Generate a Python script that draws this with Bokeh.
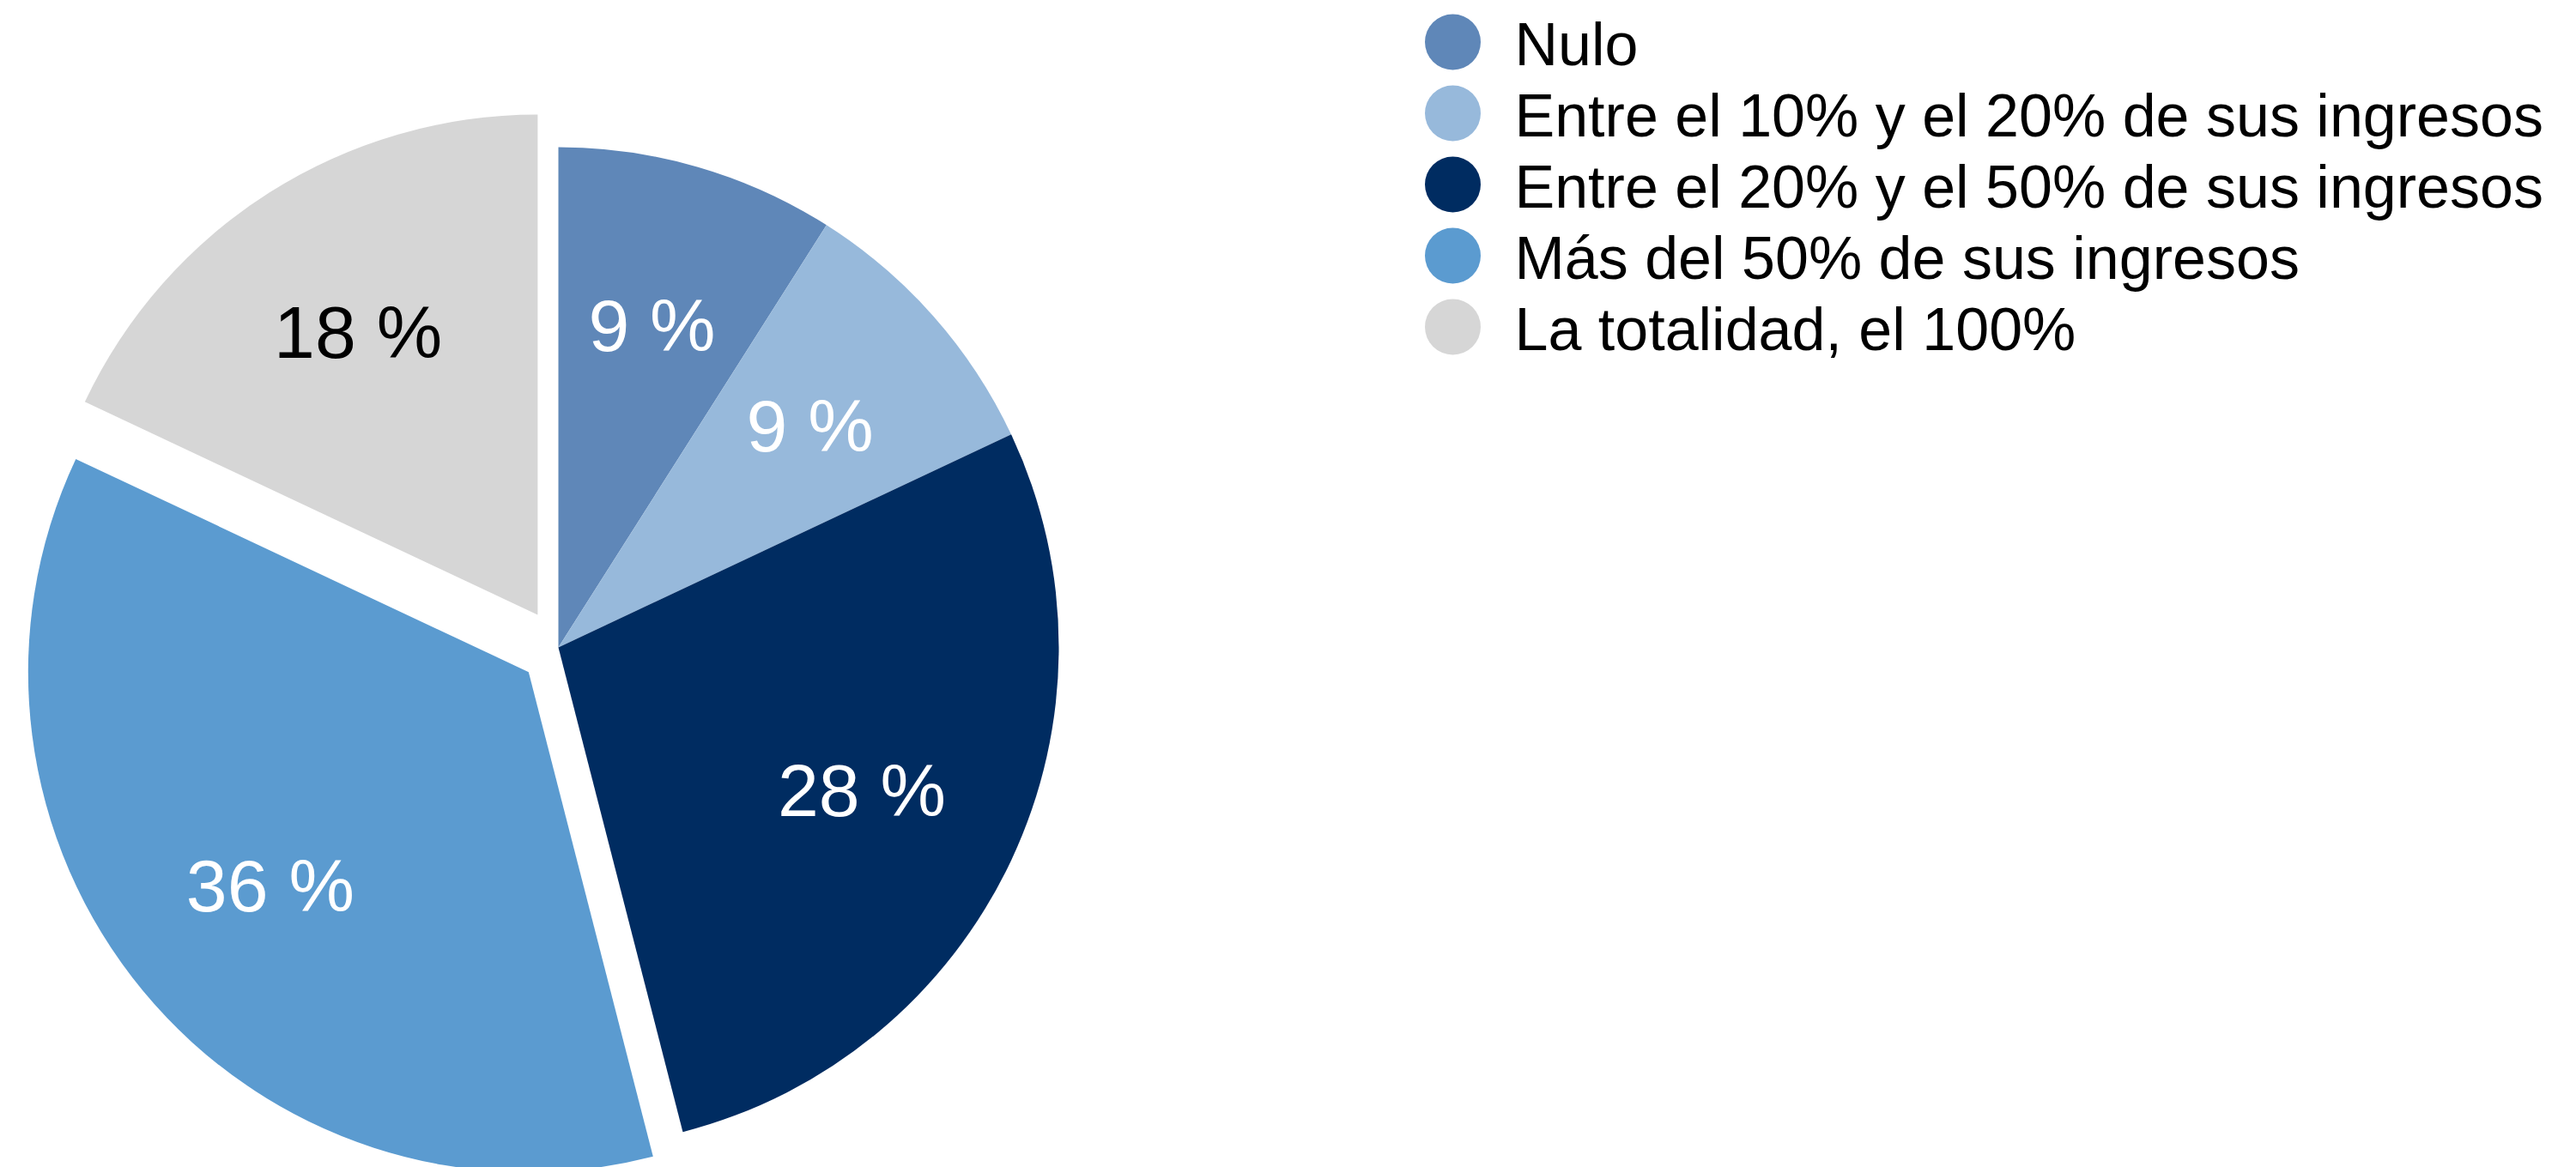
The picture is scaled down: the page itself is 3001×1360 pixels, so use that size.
import numpy as np
from bokeh.plotting import figure
from bokeh.models import Range1d, ColumnDataSource
from bokeh.core.properties import value
from bokeh.embed import file_html
from bokeh.resources import INLINE

# ---- data ----
categories = [
    "Nulo",
    "Entre el 10% y el 20% de sus ingresos",
    "Entre el 20% y el 50% de sus ingresos",
    "Más del 50% de sus ingresos",
    "La totalidad, el 100%",
]
values = [9, 9, 28, 36, 18]
pct_labels = [f"{v} %" for v in values]

# ---- style ----
colors = ["#5f87b8", "#97b9db", "#002c61", "#5b9bd0", "#d6d6d6"]
label_colors = ["white", "white", "white", "white", "black"]
explode = [0, 0, 0, 45, 45]

W, H = 2985, 1360
CX, CY = 650, -754      # pie centre (px, y up)
R = 583
LABEL_R = 0.67 * R

total = float(sum(values))
cum = np.cumsum([0] + values) / total * 2 * np.pi  # clockwise from north
ts, te = cum[:-1], cum[1:]
start = np.pi / 2 - te
end = np.pi / 2 - ts
mid = np.pi / 2 - (ts + te) / 2
ex = np.array(explode, dtype=float)
xs = CX + ex * np.cos(mid)
ys = CY + ex * np.sin(mid)

src = ColumnDataSource(dict(
    x=xs, y=ys, start=start, end=end, color=colors,
    lx=xs + LABEL_R * np.cos(mid), ly=ys + LABEL_R * np.sin(mid),
    label=pct_labels, lcolor=label_colors, cat=categories,
))

p = figure(width=W, height=H, x_range=Range1d(0, W), y_range=Range1d(-H, 0),
           output_backend="svg", toolbar_location=None, min_border=0,
           x_axis_type=None, y_axis_type=None)
p.grid.visible = False
p.outline_line_color = None
p.background_fill_color = "white"
p.border_fill_color = "white"

p.wedge(x="x", y="y", radius=R, start_angle="start", end_angle="end",
        direction="anticlock", fill_color="color", line_color=None, source=src)

p.text(x="lx", y="ly", text="label", text_color="lcolor",
       text_font=value("Liberation Sans"), text_font_size=value("86px"),
       text_align="center", text_baseline="middle", source=src)

# ---- legend ----
LX, LY0, LDY = 1692, -48.5, 83
leg = ColumnDataSource(dict(
    x=[LX] * len(categories),
    y=[LY0 - LDY * i for i in range(len(categories))],
    tx=[LX + 72] * len(categories),
    ty=[LY0 - LDY * i - 3 for i in range(len(categories))],
    color=colors, cat=categories,
))
p.scatter(x="x", y="y", size=65, marker="circle", fill_color="color",
          line_color=None, source=leg)
p.text(x="tx", y="ty", text="cat", text_color="black",
       text_font=value("Liberation Sans"), text_font_size=value("70px"),
       text_align="left", text_baseline="middle", source=leg)

open("out.html", "w").write(file_html(p, INLINE))
